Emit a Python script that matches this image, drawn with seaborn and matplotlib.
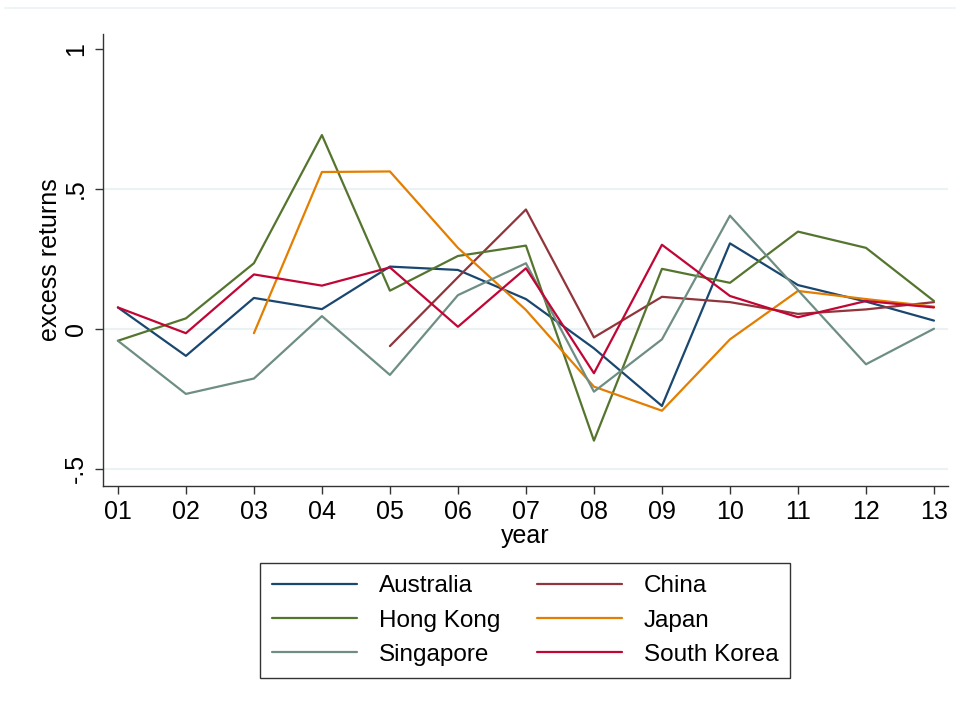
import pandas as pd
import seaborn as sns
import matplotlib.pyplot as plt
import numpy as np

# Data
years = list(range(1, 14))
year_labels = ["01", "02", "03", "04", "05", "06", "07", "08", "09", "10", "11", "12", "13"]

australia = [0.077, -0.096, 0.111, 0.071, 0.223, 0.211, 0.107, -0.069, -0.275, 0.306, 0.157, 0.098, 0.030]
china = [np.nan, np.nan, np.nan, np.nan, -0.061, 0.185, 0.427, -0.030, 0.115, 0.096, 0.054, 0.070, 0.096]
hong_kong = [-0.042, 0.038, 0.235, 0.693, 0.137, 0.261, 0.298, -0.399, 0.215, 0.165, 0.348, 0.290, 0.100]
japan = [np.nan, np.nan, -0.015, 0.561, 0.563, 0.290, 0.068, -0.206, -0.292, -0.037, 0.136, 0.107, 0.080]
singapore = [-0.042, -0.232, -0.177, 0.046, -0.164, 0.121, 0.235, -0.224, -0.037, 0.405, 0.139, -0.126, 0.001]
south_korea = [0.077, -0.015, 0.195, 0.155, 0.220, 0.008, 0.217, -0.158, 0.301, 0.118, 0.042, 0.100, 0.077]

countries = ["Australia", "China", "Hong Kong", "Japan", "Singapore", "South Korea"]
series = [australia, china, hong_kong, japan, singapore, south_korea]
colors = ["#1a476f", "#90353b", "#55752f", "#e37e00", "#6e8e84", "#c10534"]

rows = []
for name, vals in zip(countries, series):
    for yr, v in zip(years, vals):
        rows.append({"year": yr, "excess returns": v, "country": name})
df = pd.DataFrame(rows).dropna()

sns.set_style("white")
plt.rcParams["font.family"] = ["Liberation Sans", "DejaVu Sans"]
plt.rcParams["text.color"] = "black"
plt.rcParams["axes.labelcolor"] = "black"
plt.rcParams["xtick.color"] = "black"
plt.rcParams["ytick.color"] = "black"

fig = plt.figure(figsize=(9.62, 7.02), dpi=100)
ax = fig.add_axes([0.107, 0.3077, 0.878, 0.6438])

sns.lineplot(data=df, x="year", y="excess returns", hue="country",
             hue_order=countries, palette=dict(zip(countries, colors)),
             linewidth=1.6, ax=ax, legend=False)

# grid lines like Stata's s2color scheme
for g in [-0.5, 0, 0.5]:
    ax.axhline(g, color="#eaf2f3", linewidth=1.5, zorder=0)

ax.set_xlim(0.78, 13.2)
ax.set_ylim(-0.561, 1.054)
ax.set_xticks(years)
ax.set_xticklabels(year_labels, fontsize=18)
ax.set_yticks([-0.5, 0, 0.5, 1])
ax.set_yticklabels(["-.5", "0", ".5", "1"], fontsize=18, rotation=90, va="center")
ax.tick_params(axis="both", direction="out", length=6, width=1, color="#333333",
               labelcolor="black", left=True, bottom=True)
ax.tick_params(axis="x", pad=4)
ax.tick_params(axis="y", pad=5)

for side in ["top", "right"]:
    ax.spines[side].set_visible(False)
for side in ["left", "bottom"]:
    ax.spines[side].set_color("#333333")
    ax.spines[side].set_linewidth(1)

ax.set_xlabel("year", fontsize=18, labelpad=0)
ax.set_ylabel("excess returns", fontsize=18, labelpad=1)

# legend, filled row by row like Stata
order = [0, 2, 4, 1, 3, 5]
handles = [plt.Line2D([], [], color=colors[i], linewidth=1.6) for i in order]
labels = [countries[i] for i in order]
leg = fig.legend(handles, labels, ncol=2, loc="center",
                 bbox_to_anchor=(0.5457, 0.1161), fontsize=17.5,
                 frameon=True, fancybox=False, handlelength=3.5,
                 columnspacing=1.5, labelspacing=0.5, borderpad=0.5,
                 handletextpad=0.9, borderaxespad=0)
leg.get_frame().set_edgecolor("black")
leg.get_frame().set_linewidth(1)

# faint outer border line at top of graph region
fig.add_artist(plt.Line2D([0.005, 0.993], [0.988, 0.988], color="#eaf2f3",
                          linewidth=1.2, transform=fig.transFigure))

fig.savefig("out.png", dpi=100, facecolor="white")
